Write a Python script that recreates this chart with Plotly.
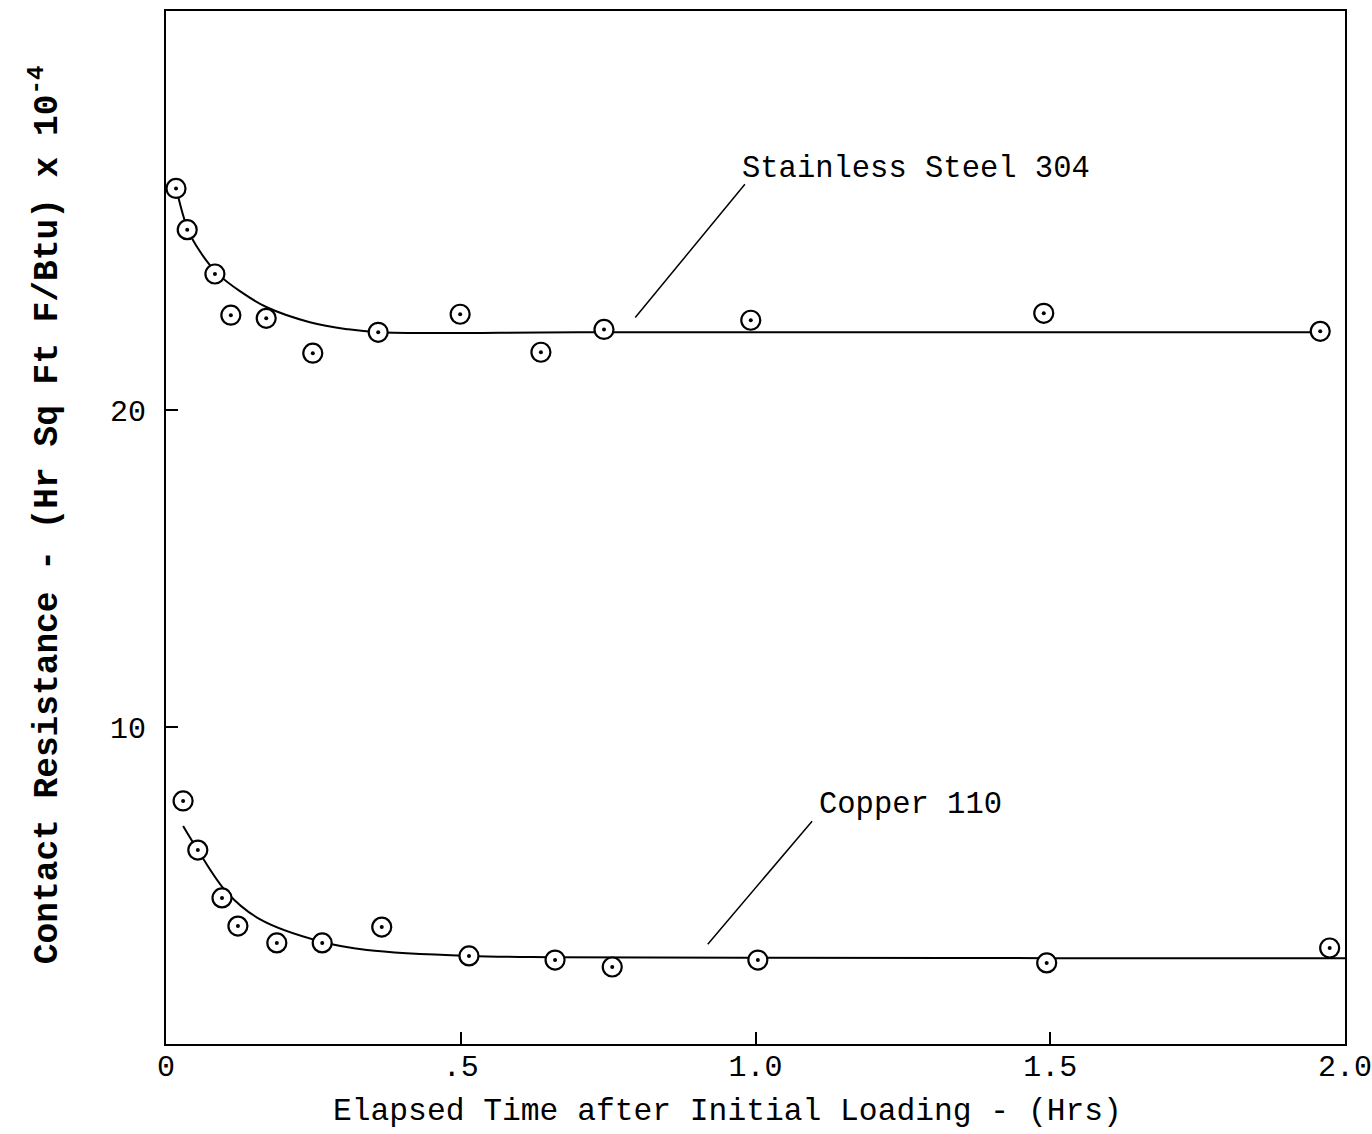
import plotly.graph_objects as go

# Stainless Steel 304 measured points
ss_time = [0.017, 0.036, 0.083, 0.110, 0.170, 0.249, 0.360, 0.499, 0.636, 0.743, 0.992, 1.489, 1.958]
ss_res = [27.0, 25.7, 24.3, 23.0, 22.9, 21.8, 22.46, 23.03, 21.83, 22.55, 22.84, 23.06, 22.49]
# Stainless Steel faired curve
ss_curve_t = [0.017, 0.037, 0.058, 0.087, 0.126, 0.171, 0.244, 0.307, 0.360, 0.70, 1.20, 1.958]
ss_curve_r = [27.03, 25.71, 25.0, 24.32, 23.75, 23.25, 22.78, 22.56, 22.46, 22.46, 22.46, 22.46]

# Copper 110 measured points
cu_time = [0.029, 0.054, 0.095, 0.122, 0.188, 0.265, 0.366, 0.514, 0.660, 0.757, 1.004, 1.494, 1.974]
cu_res = [7.67, 6.12, 4.61, 3.72, 3.19, 3.19, 3.69, 2.78, 2.65, 2.43, 2.65, 2.56, 3.03]
# Copper faired curve
cu_curve_t = [0.029, 0.054, 0.103, 0.159, 0.265, 0.341, 0.514, 0.660, 1.0, 1.5, 2.0]
cu_curve_r = [6.88, 6.12, 4.79, 3.94, 3.22, 2.97, 2.78, 2.74, 2.72, 2.71, 2.71]

x_tickvals = [0, 0.5, 1.0, 1.5, 2.0]
x_ticktext = ["0", ".5", "1.0", "1.5", "2.0"]
y_tickvals = [10, 20]
y_ticktext = ["10", "20"]

FONT = "Liberation Mono, Courier New, monospace"

fig = go.Figure()
fig.add_trace(go.Scatter(x=ss_curve_t, y=ss_curve_r, mode="lines",
                         line=dict(color="black", width=2, shape="spline"), showlegend=False))
fig.add_trace(go.Scatter(x=cu_curve_t, y=cu_curve_r, mode="lines",
                         line=dict(color="black", width=2, shape="spline"), showlegend=False))
for xs, ys in [(ss_time, ss_res), (cu_time, cu_res)]:
    fig.add_trace(go.Scatter(x=xs, y=ys, mode="markers",
                             marker=dict(symbol="circle", size=19, color="white",
                                         line=dict(color="black", width=2.2)),
                             showlegend=False))
    fig.add_trace(go.Scatter(x=xs, y=ys, mode="markers",
                             marker=dict(symbol="circle", size=4, color="black"),
                             showlegend=False))

# Labels with leader lines
fig.add_annotation(x=0.974, y=27.6, xref="x", yref="y", text="Stainless Steel 304",
                   showarrow=False, xanchor="left", yanchor="middle",
                   font=dict(family=FONT, size=30.5, color="black"))
fig.add_annotation(x=1.104, y=7.54, xref="x", yref="y", text="Copper 110",
                   showarrow=False, xanchor="left", yanchor="middle",
                   font=dict(family=FONT, size=30.5, color="black"))
fig.add_shape(type="line", xref="x", yref="y", x0=0.982, y0=27.13, x1=0.796, y1=22.93,
              line=dict(color="black", width=1.5))
fig.add_shape(type="line", xref="x", yref="y", x0=1.096, y0=7.03, x1=0.919, y1=3.15,
              line=dict(color="black", width=1.5))

# Axis titles
fig.add_annotation(x=-0.1026, y=0.512, xref="paper", yref="paper",
                   text="<b>Contact Resistance - (Hr Sq Ft F/Btu) x 10<sup>-4</sup></b>",
                   textangle=-90, showarrow=False, xanchor="center", yanchor="middle",
                   font=dict(family=FONT, size=34.5, color="black"))
fig.add_annotation(x=0.476, y=-0.0658, xref="paper", yref="paper",
                   text="Elapsed Time after Initial Loading - (Hrs)",
                   showarrow=False, xanchor="center", yanchor="middle",
                   font=dict(family=FONT, size=31.3, color="black"))

fig.update_xaxes(range=[0, 2.0], tickvals=x_tickvals, ticktext=x_ticktext,
                 ticks="inside", ticklen=12, tickwidth=1.5, tickcolor="black",
                 showline=True, linecolor="black", linewidth=2, mirror=True,
                 showgrid=False, zeroline=False, ticklabeloverflow="allow",
                 ticklabelstandoff=-6,
                 tickfont=dict(family=FONT, size=30, color="black"))
fig.update_yaxes(range=[0, 32.6], tickvals=y_tickvals, ticktext=y_ticktext,
                 ticks="inside", ticklen=12, tickwidth=1.5, tickcolor="black",
                 showline=True, linecolor="black", linewidth=2, mirror=True,
                 showgrid=False, zeroline=False, ticklabelstandoff=12,
                 tickfont=dict(family=FONT, size=30, color="black"))

fig.update_layout(width=1372, height=1134, paper_bgcolor="white", plot_bgcolor="white",
                  margin=dict(l=166, r=27, t=11, b=90, autoexpand=False))

fig.write_html("out.html")
